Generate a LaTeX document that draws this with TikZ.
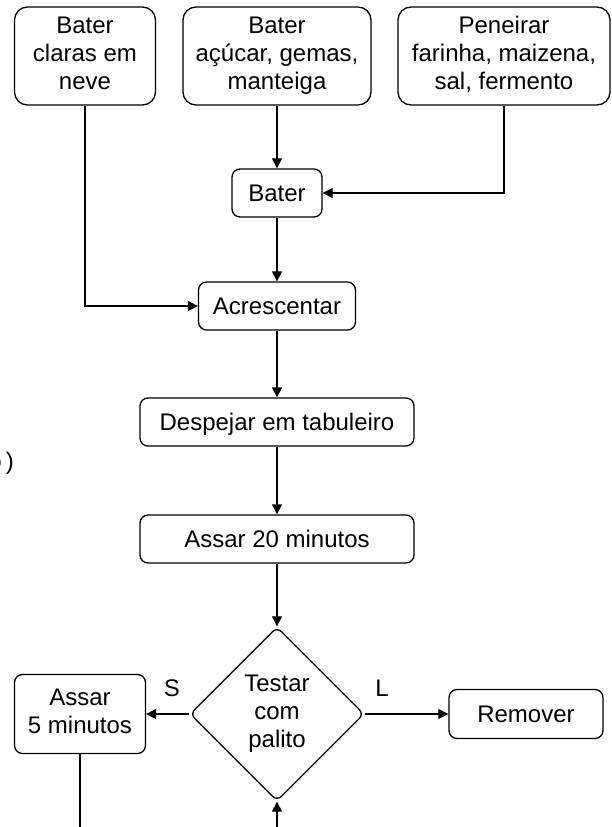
\documentclass[tikz,border=0pt]{standalone}
\usepackage{fontspec}
\setmainfont{Liberation Sans}
\usetikzlibrary{shapes.geometric, arrows.meta, positioning}

\newcommand{\linha}{\rule[-5.8pt]{0pt}{28pt}}

\begin{document}
\begin{tikzpicture}[
    x=1pt, y=-1pt,
    font=\fontsize{24}{28}\selectfont,
    step box/.style={rectangle, draw, rounded corners=8pt, line width=1.3pt, align=center, inner sep=0pt,
        execute at begin node=\linha, execute at end node=\linha},
    tall box/.style={step box, rounded corners=13pt, minimum height=98pt},
    decision/.style={diamond, draw, rounded corners=6pt, line width=1.3pt, align=center, inner sep=0pt,
        minimum width=174pt, minimum height=174pt, execute at begin node=\linha, execute at end node=\linha},
    arrow/.style={-{Triangle[length=10pt, width=10pt]}, line width=1.3pt}
]
    \useasboundingbox (0,0) rectangle (612,827);

    % Ingredientes
    \node[tall box, minimum width=141pt] (claras) at (85,56) {Bater\\claras em\\neve};
    \node[tall box, minimum width=188pt] (acucar) at (277,56) {Bater\\açúcar, gemas,\\manteiga};
    \node[tall box, minimum width=212pt] (peneirar) at (504,56) {Peneirar\\farinha, maizena,\\sal, fermento};

    % Passos
    \node[step box, minimum width=90pt, minimum height=48pt] (bater) at (277,193) {Bater};
    \node[step box, minimum width=157pt, minimum height=48pt] (acrescentar) at (277,306) {Acrescentar};
    \node[step box, minimum width=274pt, minimum height=48pt] (despejar) at (277,422) {Despejar em tabuleiro};
    \node[step box, minimum width=274pt, minimum height=48pt] (assar) at (277,539) {Assar 20 minutos};
    \node[decision] (testar) at (277,714) {Testar\\com\\palito};
    \node[step box, minimum width=131pt, minimum height=79pt] (assarmais) at (80,714) {Assar\\5 minutos};
    \node[step box, minimum width=154pt, minimum height=49pt] (remover) at (526,714) {Remover};

    % Texto cortado na margem
    \node[anchor=base east, inner sep=0pt] (resto) at (14,469) {o\,)};

    % Pontos do retorno (fora da figura)
    \coordinate (voltaA) at (80,850);
    \coordinate (voltaB) at (277,850);

    % Setas
    \draw[arrow] (acucar) -- (bater);
    \draw[arrow] (peneirar.south) |- (bater.east);
    \draw[arrow] (claras.south) |- (acrescentar.west);
    \draw[arrow] (bater) -- (acrescentar);
    \draw[arrow] (acrescentar) -- (despejar);
    \draw[arrow] (despejar) -- (assar);
    \draw[arrow] (assar) -- (testar);
    \draw[arrow] (testar.west) -- (assarmais.east);
    \draw[arrow] (testar.east) -- (remover.west);
    \draw[arrow] (assarmais.south) -- (voltaA) -- (voltaB) -- (testar.south);

    % Respostas
    \node (sim) at (172,688) {S};
    \node (nao) at (382,688) {L};
\end{tikzpicture}
\end{document}
